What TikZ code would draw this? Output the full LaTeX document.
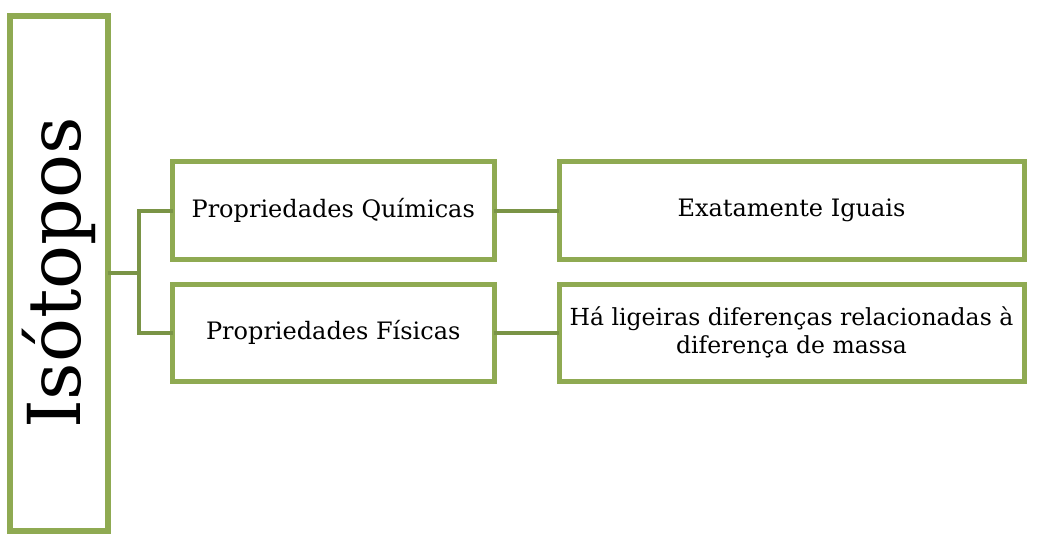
\documentclass[tikz,border=0pt]{standalone}
\usepackage{fontspec}
\setmainfont{DejaVu Serif}
\usepackage{xcolor}
\definecolor{isoGreen}{RGB}{143,170,82}
\definecolor{isoGreenD}{RGB}{122,148,70}
\usepackage{tikz}
\usetikzlibrary{positioning}
\tikzset{
  iso-root/.style={draw=isoGreen,fill=white,line width=6pt,outer sep=0pt,inner sep=0pt,
    minimum width=98pt,minimum height=515pt},
  iso-prop/.style={draw=isoGreen,fill=white,line width=5pt,outer sep=0pt,
    minimum width=321.5pt,minimum height=98pt,align=center,
    font=\fontsize{24}{28}\selectfont},
  iso-val/.style={draw=isoGreen,fill=white,line width=5pt,outer sep=0pt,
    minimum width=465pt,minimum height=98pt,align=center,
    font=\fontsize{24}{28}\selectfont},
  iso-link/.style={draw=isoGreenD,line width=4pt},
}

\begin{document}
\begin{tikzpicture}[x=1pt,y=-1pt]
  \useasboundingbox (0,0) rectangle (1040,541);

  % root
  \node[iso-root] (iso) at (58.5,273) {};
  \node[rotate=90,font=\fontsize{73}{73}\selectfont] (isot) at (iso.center) {Isótopos};

  % properties
  \node[iso-prop] (quim) at (333.25,210.5) {Propriedades Químicas};
  \node[iso-prop,minimum height=97pt] (fis) at (333.25,332.5) {Propriedades Físicas};

  % values
  \node[iso-val] (igual) at (791.5,210.5) {Exatamente Iguais};
  \node[iso-val,minimum height=97pt,font=\fontsize{23.5}{28}\selectfont] (dif) at (791.5,332.5)
    {Há ligeiras diferenças relacionadas à\\diferença de massa};

  % edges
  \draw[iso-link] (iso.east) -- ([xshift=-33.5pt]quim.west |- iso.east);
  \draw[iso-link] (quim.west) -- ++(-33.5,0) |- (fis.west);
  \draw[iso-link] (quim.east) -- (igual.west);
  \draw[iso-link] (fis.east) -- (dif.west);
\end{tikzpicture}
\end{document}
